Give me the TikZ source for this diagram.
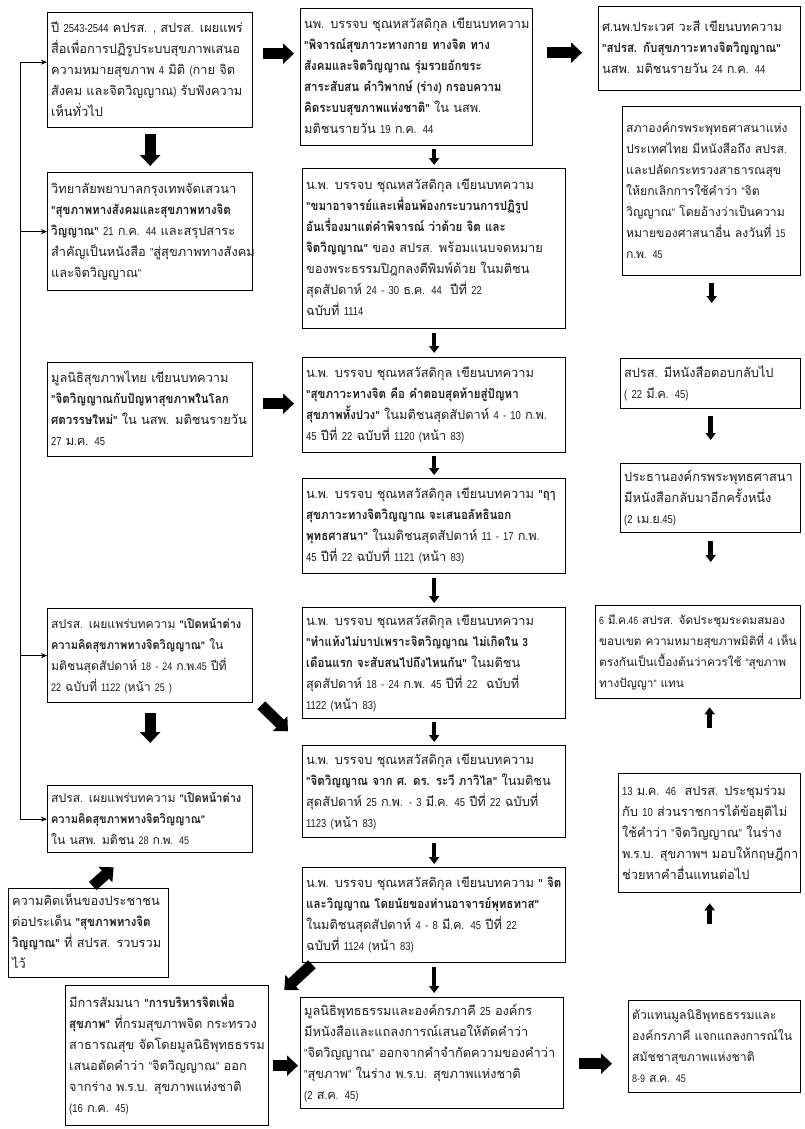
\documentclass[tikz,border=0pt]{standalone}
\usepackage{fontspec}
\newfontfamily\thaifont[Script=Thai,BoldFeatures={FakeStretch=0.9}]{Loma}
\newfontfamily\latfont[Scale=0.9,FakeStretch=0.82]{Liberation Sans}
\newXeTeXintercharclass\latcls
\XeTeXcharclass`\0=\latcls \XeTeXcharclass`\1=\latcls \XeTeXcharclass`\2=\latcls
\XeTeXcharclass`\3=\latcls \XeTeXcharclass`\4=\latcls \XeTeXcharclass`\5=\latcls
\XeTeXcharclass`\6=\latcls \XeTeXcharclass`\7=\latcls \XeTeXcharclass`\8=\latcls
\XeTeXcharclass`\9=\latcls \XeTeXcharclass`\(=\latcls \XeTeXcharclass`\)=\latcls
\XeTeXcharclass`\-=\latcls \XeTeXcharclass`\"=\latcls \XeTeXcharclass`\.=\latcls
\XeTeXcharclass`\,=\latcls
\XeTeXinterchartoks 0 \latcls = {\latfont}
\XeTeXinterchartoks 4095 \latcls = {\latfont}
\XeTeXinterchartoks \latcls 0 = {\thaifont}
\XeTeXinterchartoks \latcls 4095 = {\thaifont}
\XeTeXinterchartokenstate=1
\newcommand\lns[1]{\begin{tabular}{@{}l@{}}#1\end{tabular}}
\usetikzlibrary{arrows.meta,calc}
\begin{document}
\begin{tikzpicture}[x=1pt,y=-1pt,
  box/.style={draw=black, line width=1.3pt, anchor=north west, inner xsep=3.5pt, inner ysep=2pt,
    align=left, text=black!88, font=\thaifont\fontsize{12.8}{21}\selectfont},
  smallfont/.style={font=\thaifont\fontsize{12.2}{21}\selectfont},
  fat/.style={line width=11pt, -{Triangle[length=11pt,width=20pt]}},
  small/.style={line width=4.5pt, -{Triangle[length=7pt,width=10pt]}},
  thin/.style={line width=0.7pt, -{Stealth[length=6pt,width=5pt]}}]
\fill[white] (0,0) rectangle (804,1129);
\useasboundingbox (0,0) rectangle (804,1129);

% left column
\node[box, minimum width=205pt, minimum height=115pt, text width=198pt] (L1) at (47,12)
 {\lns{ปี 2543-2544 คปรส. , สปรส. เผยแพร่\\สื่อเพื่อการปฏิรูประบบสุขภาพเสนอ\\ความหมายสุขภาพ 4 มิติ (กาย จิต\\สังคม และจิตวิญญาณ) รับฟังความ\\เห็นทั่วไป}};
\node[box, minimum width=205pt, minimum height=118pt, text width=198pt] (L2) at (47,172)
 {\lns{วิทยาลัยพยาบาลกรุงเทพจัดเสวนา\\\textbf{"สุขภาพทางสังคมและสุขภาพทางจิต}\\\textbf{วิญญาณ"} 21 ก.ค. 44 และสรุปสาระ\\สำคัญเป็นหนังสือ "สู่สุขภาพทางสังคม\\และจิตวิญญาณ"}};
\node[box, minimum width=205pt, minimum height=94pt, text width=198pt] (L3) at (47,362)
 {\lns{มูลนิธิสุขภาพไทย เขียนบทความ\\\textbf{"จิตวิญญาณกับปัญหาสุขภาพในโลก}\\\textbf{ศตวรรษใหม่"} ใน นสพ. มติชนรายวัน\\27 ม.ค. 45}};
\node[box, smallfont, minimum width=205pt, minimum height=94pt, text width=198pt] (L4) at (47,608)
 {\lns{สปรส. เผยแพร่บทความ \textbf{"เปิดหน้าต่าง}\\\textbf{ความคิดสุขภาพทางจิตวิญญาณ"} ใน\\มติชนสุดสัปดาห์ 18 - 24 ก.พ.45 ปีที่\\22 ฉบับที่ 1122 (หน้า 25 )}};
\node[box, smallfont, minimum width=205pt, minimum height=67pt, text width=198pt] (L5) at (47,785)
 {\lns{สปรส. เผยแพร่บทความ \textbf{"เปิดหน้าต่าง}\\\textbf{ความคิดสุขภาพทางจิตวิญญาณ"}\\ใน นสพ. มติชน 28 ก.พ. 45}};
\node[box, minimum width=160pt, minimum height=89pt, text width=153pt] (C) at (8,888)
 {\lns{ความคิดเห็นของประชาชน\\ต่อประเด็น \textbf{"สุขภาพทางจิต}\\\textbf{วิญญาณ"} ที่ สปรส. รวบรวม\\ไว้}};
\node[box, minimum width=203pt, minimum height=140pt, text width=196pt] (S) at (65,985)
 {\lns{มีการสัมมนา \textbf{"การบริหารจิตเพื่อ}\\\textbf{สุขภาพ"} ที่กรมสุขภาพจิต กระทรวง\\สาธารณสุข จัดโดยมูลนิธิพุทธธรรม\\เสนอตัดคำว่า "จิตวิญญาณ" ออก\\จากร่าง พ.ร.บ. สุขภาพแห่งชาติ\\(16 ก.ค. 45)}};

% middle column
\node[box, minimum width=232pt, minimum height=137pt, text width=225pt] (M1) at (300,8)
 {\lns{นพ. บรรจบ ชุณหสวัสดิกุล เขียนบทความ\\\textbf{"พิจารณ์สุขภาวะทางกาย ทางจิต ทาง}\\\textbf{สังคมและจิตวิญญาณ รุ่มรวยอักขระ}\\\textbf{สาระสับสน คำวิพากษ์ (ร่าง) กรอบความ}\\\textbf{คิดระบบสุขภาพแห่งชาติ"} ใน นสพ.\\มติชนรายวัน 19 ก.ค. 44}};
\node[box, minimum width=263pt, minimum height=160pt, text width=256pt] (M2) at (302,168)
 {\lns{น.พ. บรรจบ ชุณหสวัสดิกุล เขียนบทความ\\\textbf{"ขมาอาจารย์และเพื่อนพ้องกระบวนการปฏิรูป}\\\textbf{อันเรื่องมาแต่คำพิจารณ์ ว่าด้วย จิต และ}\\\textbf{จิตวิญญาณ"} ของ สปรส. พร้อมแนบจดหมาย\\ของพระธรรมปิฎกลงตีพิมพ์ด้วย ในมติชน\\สุดสัปดาห์ 24 - 30 ธ.ค. 44~~ปีที่ 22\\ฉบับที่ 1114}};
\node[box, minimum width=263pt, minimum height=95pt, text width=256pt] (M3) at (302,357)
 {\lns{น.พ. บรรจบ ชุณหสวัสดิกุล เขียนบทความ\\\textbf{"สุขภาวะทางจิต คือ คำตอบสุดท้ายสู่ปัญหา}\\\textbf{สุขภาพทั้งปวง"} ในมติชนสุดสัปดาห์ 4 - 10 ก.พ.\\45 ปีที่ 22 ฉบับที่ 1120 (หน้า 83)}};
\node[box, minimum width=263pt, minimum height=95pt, text width=256pt] (M4) at (302,478)
 {\lns{น.พ. บรรจบ ชุณหสวัสดิกุล เขียนบทความ \textbf{"ฤๅ}\\\textbf{สุขภาวะทางจิตวิญญาณ จะเสนอลัทธินอก}\\\textbf{พุทธศาสนา"} ในมติชนสุดสัปดาห์ 11 - 17 ก.พ.\\45 ปีที่ 22 ฉบับที่ 1121 (หน้า 83)}};
\node[box, minimum width=263pt, minimum height=111pt, text width=256pt] (M5) at (302,607)
 {\lns{น.พ. บรรจบ ชุณหสวัสดิกุล เขียนบทความ\\\textbf{"ทำแท้งไม่บาปเพราะจิตวิญญาณ ไม่เกิดใน 3}\\\textbf{เดือนแรก จะสับสนไปถึงไหนกัน"} ในมติชน\\สุดสัปดาห์ 18 - 24 ก.พ. 45 ปีที่ 22~~ฉบับที่\\1122 (หน้า 83)}};
\node[box, minimum width=263pt, minimum height=92pt, text width=256pt] (M6) at (302,745)
 {\lns{น.พ. บรรจบ ชุณหสวัสดิกุล เขียนบทความ\\\textbf{"จิตวิญญาณ จาก ศ. ดร. ระวี ภาวิไล"} ในมติชน\\สุดสัปดาห์ 25 ก.พ. - 3 มี.ค. 45 ปีที่ 22 ฉบับที่\\1123 (หน้า 83)}};
\node[box, minimum width=263pt, minimum height=95pt, text width=256pt] (M7) at (302,867)
 {\lns{น.พ. บรรจบ ชุณหสวัสดิกุล เขียนบทความ \textbf{" จิต}\\\textbf{และวิญญาณ โดยนัยของท่านอาจารย์พุทธทาส"}\\ในมติชนสุดสัปดาห์ 4 - 8 มี.ค. 45 ปีที่ 22\\ฉบับที่ 1124 (หน้า 83)}};
\node[box, minimum width=263pt, minimum height=111pt, text width=256pt] (M8) at (300,997)
 {\lns{มูลนิธิพุทธธรรมและองค์กรภาคี 25 องค์กร\\มีหนังสือและแถลงการณ์เสนอให้ตัดคำว่า\\"จิตวิญญาณ" ออกจากคำจำกัดความของคำว่า\\"สุขภาพ" ในร่าง พ.ร.บ. สุขภาพแห่งชาติ\\(2 ส.ค. 45)}};

% right column
\node[box, minimum width=202pt, minimum height=84pt, text width=195pt] (R1) at (598,6)
 {\lns{ศ.นพ.ประเวศ วะสี เขียนบทความ\\\textbf{"สปรส. กับสุขภาวะทางจิตวิญญาณ"}\\นสพ. มติชนรายวัน 24 ก.ค. 44}};
\node[box, smallfont, minimum width=178pt, minimum height=169pt, text width=171pt] (R2) at (622,106)
 {\lns{สภาองค์กรพระพุทธศาสนาแห่ง\\ประเทศไทย มีหนังสือถึง สปรส.\\และปลัดกระทรวงสาธารณสุข\\ให้ยกเลิกการใช้คำว่า "จิต\\วิญญาณ" โดยอ้างว่าเป็นความ\\หมายของศาสนาอื่น ลงวันที่ 15\\ก.พ. 45}};
\node[box, minimum width=180pt, minimum height=50pt, text width=173pt] (R3) at (620,358)
 {\lns{สปรส. มีหนังสือตอบกลับไป\\( 22 มี.ค. 45)}};
\node[box, minimum width=180pt, minimum height=69pt, text width=173pt] (R4) at (620,463)
 {\lns{ประธานองค์กรพระพุทธศาสนา\\มีหนังสือกลับมาอีกครั้งหนึ่ง\\(2 เม.ย.45)}};
\node[box, font=\thaifont\fontsize{11.8}{21}\selectfont, minimum width=205pt, minimum height=93pt, text width=198pt] (R5) at (595,605)
 {\lns{6 มี.ค.46 สปรส. จัดประชุมระดมสมอง\\ขอบเขต ความหมายสุขภาพมิติที่ 4 เห็น\\ตรงกันเป็นเบื้องต้นว่าควรใช้ "สุขภาพ\\ทางปัญญา" แทน}};
\node[box, minimum width=182pt, minimum height=119pt, text width=175pt] (R6) at (618,773)
 {\lns{13 ม.ค. 46~~สปรส. ประชุมร่วม\\กับ 10 ส่วนราชการได้ข้อยุติไม่\\ใช้คำว่า "จิตวิญญาณ" ในร่าง\\พ.ร.บ. สุขภาพฯ มอบให้กฤษฎีกา\\ช่วยหาคำอื่นแทนต่อไป}};
\node[box, smallfont, minimum width=172pt, minimum height=92pt, text width=165pt] (R7) at (628,1000)
 {\lns{ตัวแทนมูลนิธิพุทธธรรมและ\\องค์กรภาคี แจกแถลงการณ์ใน\\สมัชชาสุขภาพแห่งชาติ\\8-9 ส.ค. 45}};

% left bracket with thin arrows
\coordinate (lx) at (20,0);
\draw[line width=0.7pt] ($(L1.west -| lx)+(0,-8)$) -- (L5.west -| lx);
\draw[thin] ($(L1.west -| lx)+(0,-8)$) -- ($(L1.west)+(0,-8)$);
\draw[thin] (L2.west -| lx) -- (L2.west);
\draw[thin] (L4.west -| lx) -- (L4.west);
\draw[thin] (L5.west -| lx) -- (L5.west);

% fat arrows
\draw[fat] ($(L1.east)+(10,-16.5)$) -- ($(M1.west)+(-6,-23.5)$);
\draw[fat] ($(M1.east)+(14,-24.5)$) -- ($(R1.west)+(-16,4)$);
\draw[fat] ($(L1.south)+(0,6)$) -- ($(L2.north)+(0,-6)$);
\draw[fat] ($(L3.east)+(10,-6)$) -- ($(M3.west)+(-8,-1.5)$);
\draw[fat] ($(L4.south)+(0,10)$) -- ($(L5.north)+(0,-42)$);
\draw[fat] ($(L4.south east)+(8,2)$) -- ($(M5.south west)+(-14,12)$);
\draw[fat] ($(C.north)+(4,-2)$) -- ($(L5.south)+(-36.5,14)$);
\draw[fat] ($(M7.south west)+(10,1)$) -- ($(S.north east)+(15,5)$);
\draw[fat] ($(S.east)+(4,10)$) -- ($(M8.west)+(-2,12.5)$);
\draw[fat] ($(M8.east)+(15,10.5)$) -- ($(R7.west)+(-16,17)$);

% small arrows
\draw[small] ($(M1.south -| M2.north)+(0,3)$) -- ($(M2.north)+(0,-3)$);
\draw[small] ($(M2.south)+(0,4)$) -- ($(M3.north)+(0,-4)$);
\draw[small] ($(M3.south)+(0,3)$) -- ($(M4.north)+(0,-3)$);
\draw[small] ($(M4.south)+(0,4)$) -- ($(M5.north)+(0,-4)$);
\draw[small] ($(M5.south)+(0,3)$) -- ($(M6.north)+(0,-3)$);
\draw[small] ($(M6.south)+(0,5)$) -- ($(M7.north)+(0,-3)$);
\draw[small] ($(M7.south)+(0,4)$) -- ($(M8.north -| M7.south)+(0,-4)$);
\draw[small] ($(R2.south)+(0,7)$) -- ($(R3.north -| R2.south)+(0,-55)$);
\draw[small] ($(R3.south)+(0,7)$) -- ($(R4.north)+(0,-23)$);
\draw[small] ($(R4.south)+(0,8)$) -- ($(R5.north -| R4.south)+(0,-43)$);
\draw[small] ($(R5.south -| R6.north)+(0,29)$) -- ($(R5.south -| R6.north)+(0,8)$);
\draw[small] ($(R6.south)+(0,31)$) -- ($(R6.south)+(0,10)$);
\end{tikzpicture}
\end{document}
